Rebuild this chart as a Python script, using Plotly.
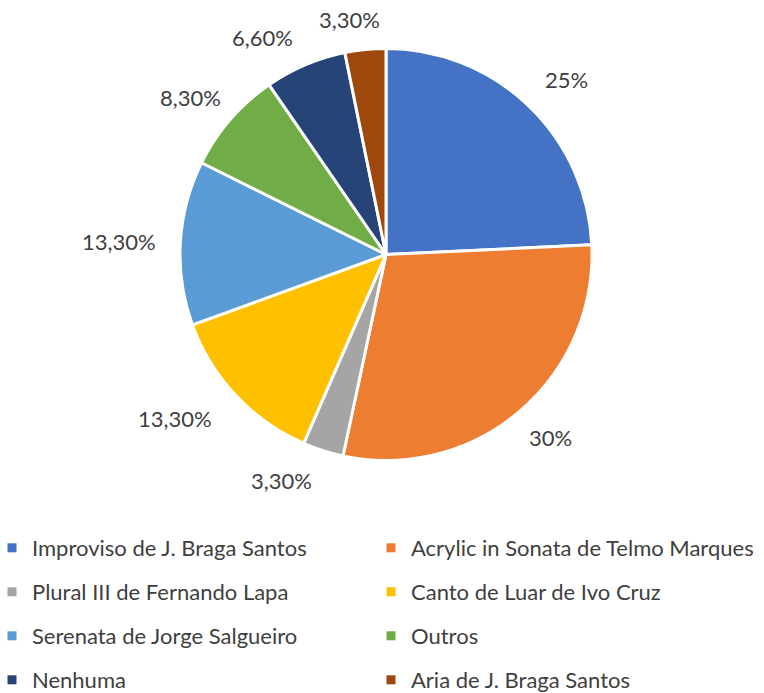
import math
import plotly.graph_objects as go

labels = ["Improviso de J. Braga Santos", "Acrylic in Sonata de Telmo Marques",
          "Plural III de Fernando Lapa", "Canto de Luar de Ivo Cruz",
          "Serenata de Jorge Salgueiro", "Outros", "Nenhuma", "Aria de J. Braga Santos"]
values = [25, 30, 3.3, 13.3, 13.3, 8.3, 6.6, 3.3]
value_text = ["25%", "30%", "3,30%", "13,30%", "13,30%", "8,30%", "6,60%", "3,30%"]
colors = ["#4472C4", "#ED7D31", "#A5A5A5", "#FFC000", "#5B9BD5", "#70AD47", "#264478", "#9E480E"]

W, H = 764, 693
CX, CY, R = 386, 254.5, 206
FONT = "Lato, 'Open Sans', sans-serif"
FS = 22
TXT = "#404040"
# manual label nudges (px), like Excel's best-fit label placement
NUDGE = [(9, 4), (4, -6), (-30, -7), (-22, -14), (-4, 2), (-3, 10), (-27, 10), (-13, 3)]

fig = go.Figure()
fig.add_trace(go.Pie(
    labels=labels, values=values, sort=False, direction="clockwise", rotation=0,
    marker=dict(colors=colors, line=dict(color="white", width=3)),
    textinfo="none", hoverinfo="label+percent", showlegend=False,
    domain=dict(x=[(CX - R) / W, (CX + R) / W], y=[1 - (CY + R) / H, 1 - (CY - R) / H]),
))

# data labels placed outside the slices
total = sum(values)
cw = {",": 5.4, "%": 18.3}
cum = 0
annos = []
for v, t, (nx, ny) in zip(values, value_text, NUDGE):
    mid = (cum + v / 2) / total * 2 * math.pi
    cum += v
    s, c = math.sin(mid), -math.cos(mid)
    tw = sum(cw.get(ch, 12.3) for ch in t)
    th = 20
    d = R + 20 + tw / 2 * abs(s) + th / 2 * abs(c)
    px, py = CX + d * s, CY + d * c
    annos.append(dict(x=px / W, y=1 - py / H, xref="paper", yref="paper", text=t,
                      showarrow=False, xanchor="center", yanchor="middle",
                      xshift=nx, yshift=-ny,
                      font=dict(family=FONT, size=FS, color=TXT)))

# legend rows (two entries per row)
rows_y = [548, 592, 636, 680]
legend_names = ["legend", "legend2", "legend3", "legend4"]
for i, (lab, col) in enumerate(zip(labels, colors)):
    fig.add_trace(go.Scatter(x=[None], y=[None], mode="markers", name=lab,
                             marker=dict(symbol="square", size=9, color=col),
                             legend=legend_names[i // 2], hoverinfo="skip"))

layout_legends = {}
for ln, yc in zip(legend_names, rows_y):
    layout_legends[ln] = dict(orientation="h", x=0, xanchor="left", y=1 - yc / H, yanchor="middle",
                              entrywidth=342, entrywidthmode="pixels", indentation=-8,
                              font=dict(family=FONT, size=FS, color=TXT),
                              bgcolor="rgba(0,0,0,0)", itemclick=False, itemdoubleclick=False)

fig.update_layout(width=W, height=H, margin=dict(l=0, r=0, t=0, b=0, autoexpand=False),
                  paper_bgcolor="white", plot_bgcolor="white",
                  xaxis=dict(visible=False), yaxis=dict(visible=False),
                  annotations=annos, **layout_legends)
fig.write_html("out.html")
